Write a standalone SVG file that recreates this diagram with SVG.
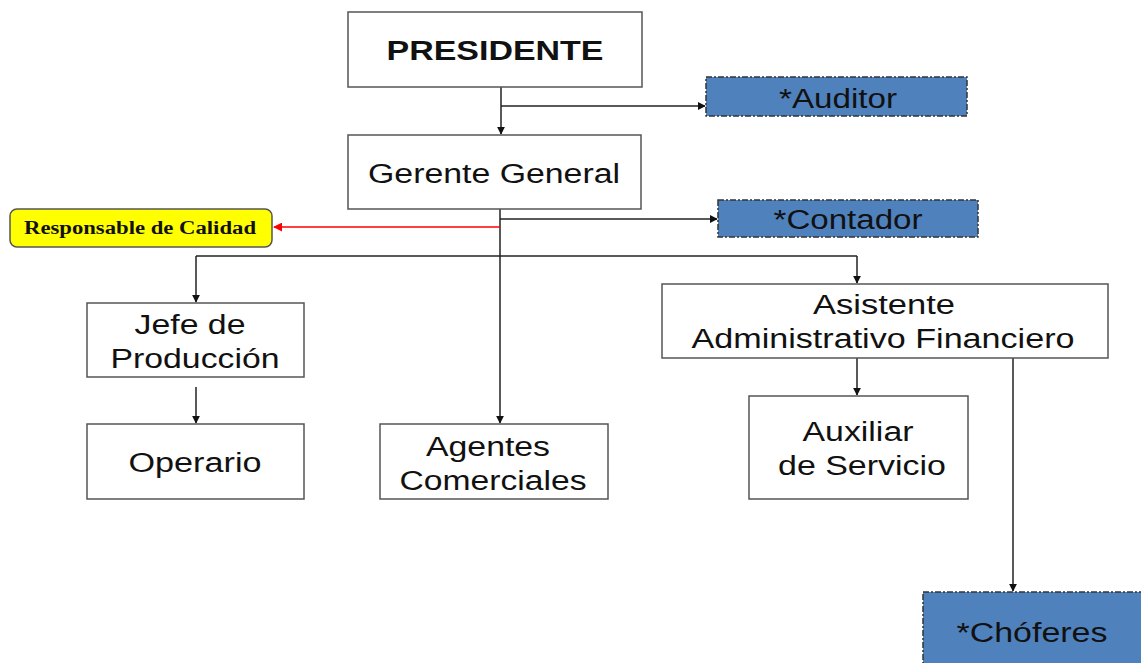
<svg xmlns="http://www.w3.org/2000/svg" width="1141" height="663" viewBox="0 0 1141 663">
<style>
.box{fill:#fff;stroke:#555;stroke-width:1.5}
.blue{fill:#4F81BD;stroke:#333;stroke-width:1.5;stroke-dasharray:6 2 2 2}
.t{font-family:"Liberation Sans",Arial,sans-serif;font-size:27px;fill:#111;text-anchor:middle}
.c{stroke:#222;stroke-width:1.5;fill:none}
</style>
<defs>
<marker id="a" viewBox="0 0 10 10" refX="9" refY="5" markerWidth="8" markerHeight="8" markerUnits="userSpaceOnUse" orient="auto"><path d="M0,0L10,5L0,10z" fill="#111"/></marker>
<marker id="r" viewBox="0 0 10 10" refX="9" refY="5" markerWidth="9" markerHeight="9" markerUnits="userSpaceOnUse" orient="auto"><path d="M0,0L10,5L0,10z" fill="#f00"/></marker>
</defs>
<rect width="1141" height="663" fill="#fff"/>
<g id="connectors">
<path class="c" d="M501,87V134" marker-end="url(#a)"/>
<path class="c" d="M501,106H705" marker-end="url(#a)"/>
<path class="c" d="M500,209V423" marker-end="url(#a)"/>
<path class="c" d="M500,219H717" marker-end="url(#a)"/>
<path d="M500,227H274" stroke="#f00" stroke-width="1.5" fill="none" marker-end="url(#r)"/>
<path class="c" d="M196,256H857"/>
<path class="c" d="M196,256V302" marker-end="url(#a)"/>
<path class="c" d="M857,256V283" marker-end="url(#a)"/>
<path class="c" d="M196,387V423" marker-end="url(#a)"/>
<path class="c" d="M857,358V395" marker-end="url(#a)"/>
<path class="c" d="M1013,358V591" marker-end="url(#a)"/>
</g>
<g id="presidente"><rect class="box" x="348" y="12" width="294" height="75"/><text class="t" x="495" y="60" font-weight="bold" textLength="217" lengthAdjust="spacingAndGlyphs">PRESIDENTE</text></g>
<g id="auditor"><rect class="blue" x="706" y="77" width="261" height="39"/><text class="t" x="838" y="108" textLength="118" lengthAdjust="spacingAndGlyphs">*Auditor</text></g>
<g id="gerente"><rect class="box" x="348" y="135" width="293" height="74"/><text class="t" x="494" y="183" textLength="252" lengthAdjust="spacingAndGlyphs">Gerente General</text></g>
<g id="contador"><rect class="blue" x="718" y="200" width="260" height="37"/><text class="t" x="848" y="229" textLength="149" lengthAdjust="spacingAndGlyphs">*Contador</text></g>
<g id="calidad"><rect x="10" y="209" width="262" height="38" rx="7" fill="#ff0" stroke="#555" stroke-width="1.5"/><text x="140" y="234" text-anchor="middle" font-family="Liberation Serif,'Times New Roman',serif" font-weight="bold" font-size="18" fill="#111" textLength="232" lengthAdjust="spacingAndGlyphs">Responsable de Calidad</text></g>
<g id="jefe"><rect class="box" x="87" y="303" width="217" height="74"/><text class="t" x="190" y="334" textLength="111" lengthAdjust="spacingAndGlyphs">Jefe de</text><text class="t" x="195" y="368" textLength="169" lengthAdjust="spacingAndGlyphs">Producción</text></g>
<g id="operario"><rect class="box" x="87" y="424" width="217" height="75"/><text class="t" x="195" y="472" textLength="133" lengthAdjust="spacingAndGlyphs">Operario</text></g>
<g id="agentes"><rect class="box" x="380" y="424" width="228" height="75"/><text class="t" x="488" y="456" textLength="124" lengthAdjust="spacingAndGlyphs">Agentes</text><text class="t" x="493" y="490" textLength="187" lengthAdjust="spacingAndGlyphs">Comerciales</text></g>
<g id="asistente"><rect class="box" x="662" y="284" width="446" height="74"/><text class="t" x="884" y="314" textLength="142" lengthAdjust="spacingAndGlyphs">Asistente</text><text class="t" x="883" y="348" textLength="383" lengthAdjust="spacingAndGlyphs">Administrativo Financiero</text></g>
<g id="auxiliar"><rect class="box" x="749" y="396" width="219" height="103"/><text class="t" x="858" y="441" textLength="111" lengthAdjust="spacingAndGlyphs">Auxiliar</text><text class="t" x="862" y="475" textLength="168" lengthAdjust="spacingAndGlyphs">de Servicio</text></g>
<g id="choferes"><rect class="blue" x="923" y="592" width="230" height="80"/><text class="t" x="1032" y="642" textLength="151" lengthAdjust="spacingAndGlyphs">*Chóferes</text></g>
</svg>
